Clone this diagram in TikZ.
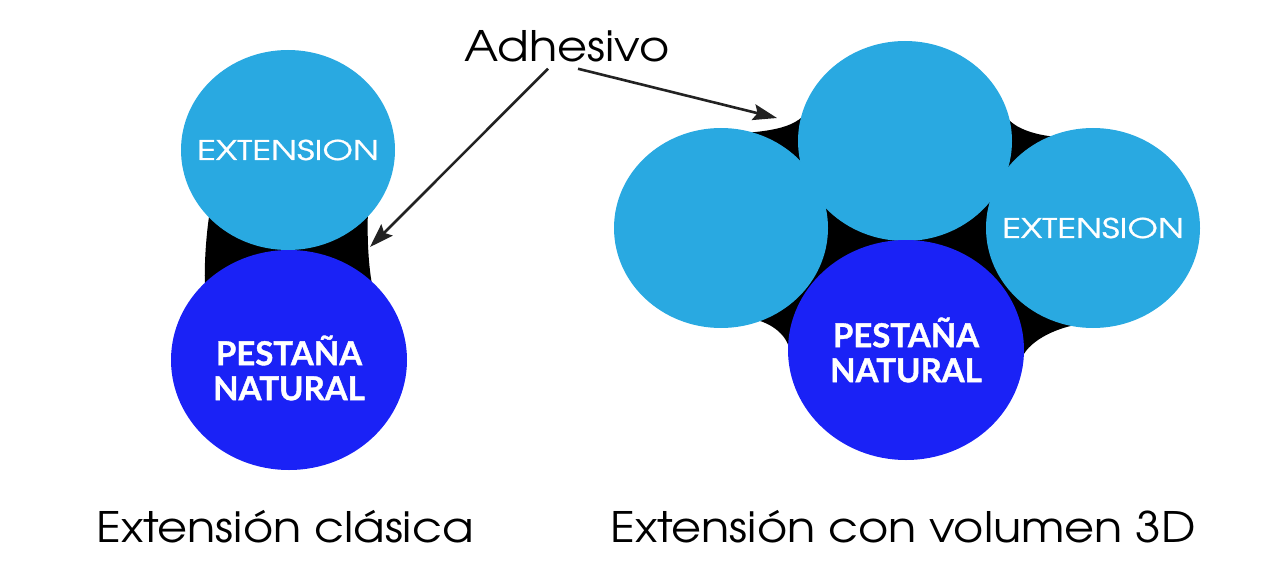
\documentclass[tikz,border=0pt]{standalone}
\usepackage{fontspec}
\setmainfont{TeX Gyre Adventor}
\newfontfamily\capfont[FakeStretch=1.1]{TeX Gyre Adventor}
\newfontfamily\extfont[FakeStretch=1.3, FakeBold=1]{TeX Gyre Adventor}
\newfontfamily\latofont[FakeBold=1.2]{Lato}
\usepackage{tikz}
\usetikzlibrary{arrows.meta, shapes.geometric}
\definecolor{LashLight}{HTML}{29A9E1}
\definecolor{LashDark}{HTML}{1A22F6}
\definecolor{ArrowGray}{HTML}{222222}

\begin{document}
\begin{tikzpicture}[x=1pt, y=-1pt,
    ext/.style={
      ellipse, fill=LashLight, minimum width=214pt, minimum height=200pt, inner sep=0pt
    },
    nat/.style={
      ellipse, fill=LashDark, minimum width=236pt, minimum height=220pt, inner sep=0pt
    },
    extlabel/.style={text=white, font=\extfont\fontsize{27}{30}\selectfont},
    natlabel/.style={text=white, align=center, font=\latofont\bfseries\fontsize{33}{35}\selectfont},
    glue/.style={fill=black},
    pointer/.style={draw=ArrowGray, line width=2.6pt, -{Stealth[length=24pt, width=16pt, inset=4pt]}},
    caption/.style={font=\capfont\fontsize{42}{48}\selectfont, text=black, inner sep=6pt}
  ]
    \useasboundingbox (0,0) rectangle (1280,567);

    % adhesivo (behind the circles)
    \fill[glue] (210,210) .. controls (206,235) and (204,265) .. (205,290)
      -- (373,290) .. controls (368,265) and (367,235) .. (368,210) -- cycle;
    \fill[glue] (745,133) .. controls (780,130) and (810,125) .. (812,95)
      -- (1003,108) .. controls (1005,125) and (1030,135) .. (1058,137)
      -- (1075,325) .. controls (1050,330) and (1022,345) .. (1020,365)
      -- (790,355) .. controls (790,338) and (775,325) .. (757,320) -- cycle;

    % clasica
    \node[ext] (extA) at (288,150) {};
    \node[nat] (natA) at (289,360) {};
    \node[extlabel] (extAtext) at (extA) {EXTENSION};
    \node[natlabel, yshift=-8pt] (natAtext) at (natA) {PESTAÑA\\NATURAL};

    % volumen 3D
    \node[ext] (extL) at (721,228) {};
    \node[ext] (extT) at (905,141) {};
    \node[nat] (natD) at (906,350) {};
    \node[ext] (extR) at (1093,228) {};
    \node[extlabel] (extRtext) at (extR) {EXTENSION};
    \node[natlabel] (natDtext) at (natD) {PESTAÑA\\NATURAL};

    \coordinate (glueA) at (370,247);
    \coordinate (glueB) at (777,118);

    \node[caption, anchor=base] (adh) at (567,62) {Adhesivo};
    \draw[pointer] ([xshift=-19pt]adh.south) -- (glueA);
    \draw[pointer] ([xshift=11pt]adh.south) -- (glueB);

    \node[caption, anchor=base] (capA) at (285,542) {Extensión clásica};
    \node[caption, anchor=base] (capB) at (903,542) {Extensión con volumen 3D};
  \end{tikzpicture}
\end{document}
